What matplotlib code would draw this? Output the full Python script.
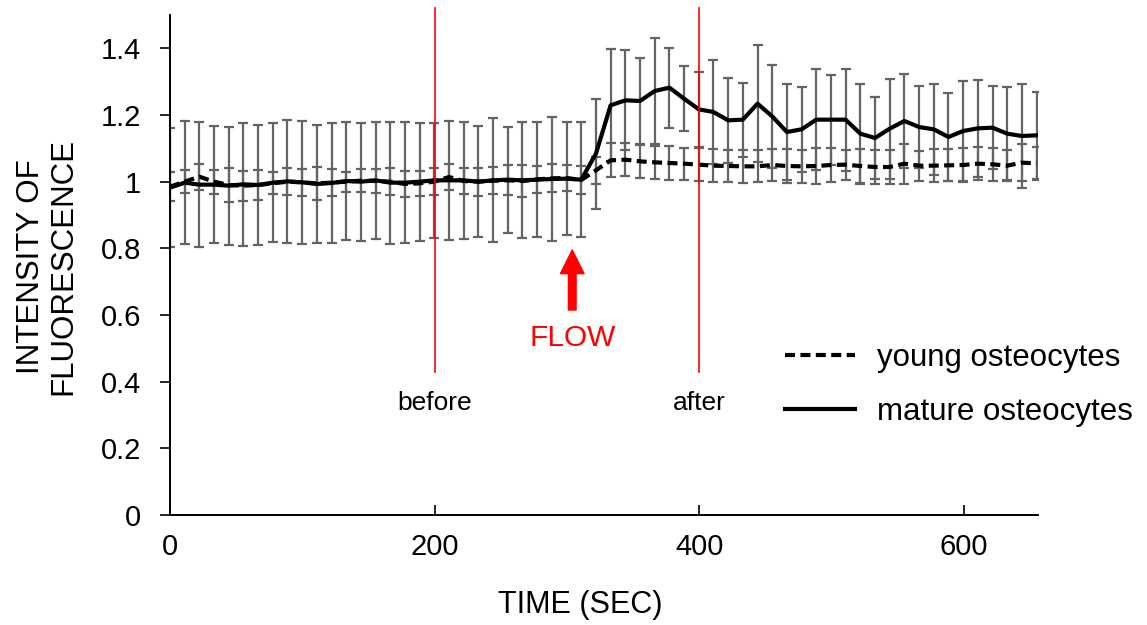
import numpy as np
import matplotlib
matplotlib.use("Agg")
import matplotlib.pyplot as plt
from matplotlib.lines import Line2D

plt.rcParams['font.family'] = ['Liberation Sans', 'DejaVu Sans']

# sampling time of each frame (sec)
time = np.arange(60) * 11.1

mature = [0.982, 0.997, 0.991, 0.991, 0.988, 0.992, 0.990, 0.997, 1.001, 0.998,
          0.993, 0.996, 1.002, 1.000, 1.004, 0.997, 0.997, 1.000, 1.004, 1.004,
          1.004, 1.000, 1.004, 1.006, 1.004, 1.006, 1.008, 1.009, 1.006, 1.084,
          1.229, 1.244, 1.242, 1.272, 1.282, 1.249, 1.217, 1.209, 1.184, 1.186,
          1.234, 1.196, 1.149, 1.157, 1.186, 1.186, 1.186, 1.144, 1.131, 1.159,
          1.182, 1.164, 1.157, 1.134, 1.152, 1.160, 1.162, 1.144, 1.137, 1.139]
mature_err = [0.178, 0.185, 0.188, 0.176, 0.177, 0.185, 0.181, 0.179, 0.185, 0.184,
              0.178, 0.179, 0.178, 0.177, 0.176, 0.183, 0.182, 0.177, 0.173, 0.179,
              0.175, 0.166, 0.186, 0.159, 0.174, 0.173, 0.185, 0.170, 0.173, 0.165,
              0.168, 0.150, 0.130, 0.160, 0.120, 0.097, 0.112, 0.157, 0.127, 0.111,
              0.175, 0.155, 0.143, 0.127, 0.151, 0.135, 0.153, 0.150, 0.123, 0.150,
              0.142, 0.123, 0.137, 0.132, 0.150, 0.146, 0.125, 0.140, 0.157, 0.130]

young = [0.985, 1.000, 1.015, 1.000, 0.990, 0.988, 0.990, 0.995, 1.000, 0.998,
         0.995, 0.997, 1.000, 1.003, 1.002, 1.000, 0.993, 0.995, 1.000, 1.014,
         1.002, 1.000, 1.003, 1.004, 1.002, 1.007, 1.010, 1.011, 1.005, 1.034,
         1.064, 1.066, 1.061, 1.058, 1.056, 1.054, 1.051, 1.048, 1.047, 1.046,
         1.046, 1.050, 1.047, 1.046, 1.047, 1.050, 1.051, 1.047, 1.044, 1.044,
         1.054, 1.048, 1.048, 1.049, 1.050, 1.054, 1.052, 1.048, 1.057, 1.055]
young_err = [0.043, 0.035, 0.039, 0.036, 0.050, 0.045, 0.046, 0.033, 0.040, 0.040,
             0.050, 0.040, 0.030, 0.035, 0.037, 0.040, 0.040, 0.038, 0.040, 0.040,
             0.038, 0.042, 0.040, 0.045, 0.048, 0.040, 0.042, 0.040, 0.042, 0.040,
             0.051, 0.050, 0.049, 0.050, 0.050, 0.048, 0.050, 0.050, 0.049, 0.049,
             0.048, 0.047, 0.050, 0.050, 0.054, 0.050, 0.045, 0.051, 0.050, 0.050,
             0.060, 0.045, 0.050, 0.048, 0.052, 0.050, 0.050, 0.047, 0.055, 0.050]

marks = [200, 400]
mark_labels = ["before", "after"]
flow_time = 304

dash = (0, (2.4, 1.3))

fig = plt.figure(figsize=(11.47, 6.25), dpi=100)
ax = fig.add_axes([0.1482, 0.176, 0.905 - 0.1482, 0.976 - 0.176])

# error bars first, lines on top
ax.errorbar(time, mature, yerr=mature_err, fmt='none', ecolor='#646464',
            elinewidth=1.6, capsize=3.5, capthick=1.6, zorder=2)
ax.errorbar(time, young, yerr=young_err, fmt='none', ecolor='#646464',
            elinewidth=1.6, capsize=3.5, capthick=1.6, zorder=2)
ax.plot(time, young, color='black', lw=3.0, ls=dash, zorder=3)
ax.plot(time, mature, color='black', lw=3.0, zorder=4)

# before / after markers
for t, lab in zip(marks, mark_labels):
    ax.plot([t, t], [0.43, 1.522], color='red', lw=1.2, clip_on=False, zorder=5)
    ax.text(t, 0.335, lab, ha='center', va='center', fontsize=19)

# flow arrow
ax.annotate('', xy=(flow_time, 0.795), xytext=(flow_time, 0.615),
            arrowprops=dict(facecolor='red', edgecolor='red', width=5.5,
                            headwidth=17, headlength=17, shrink=0))
ax.text(flow_time, 0.53, "FLOW", color='red', ha='center', va='center',
        fontsize=21.5)

ax.set_xlim(0, 656)
ax.set_ylim(0, 1.5)
ax.set_xticks([0, 200, 400, 600])
ax.set_yticks([0, 0.2, 0.4, 0.6, 0.8, 1, 1.2, 1.4])
ax.set_yticklabels(["0", "0.2", "0.4", "0.6", "0.8", "1", "1.2", "1.4"])
ax.spines['top'].set_visible(False)
ax.spines['right'].set_visible(False)
ax.spines['left'].set_linewidth(1.4)
ax.spines['bottom'].set_linewidth(1.4)
ax.tick_params(axis='y', direction='out', length=7, width=1.2, pad=14,
               labelsize=21)
ax.tick_params(axis='x', direction='in', length=7, width=1.2, pad=13,
               labelsize=21)

fig.text(0.506, 0.032, "TIME (SEC)", ha='center', va='center', fontsize=22)
fig.text(0.041, 0.573, "INTENSITY OF\nFLUORESCENCE", ha='center', va='center',
         rotation=90, fontsize=22.5, linespacing=1.12)

handles = [Line2D([], [], color='black', lw=3.0, ls=dash),
           Line2D([], [], color='black', lw=3.0)]
fig.legend(handles, ["young osteocytes", "mature osteocytes"],
           loc='upper left', bbox_to_anchor=(0.684, 0.451), frameon=False,
           fontsize=22.5, handlelength=2.25, handletextpad=0.72,
           labelspacing=0.76, borderpad=0, borderaxespad=0)

fig.savefig("out.png", dpi=100)
